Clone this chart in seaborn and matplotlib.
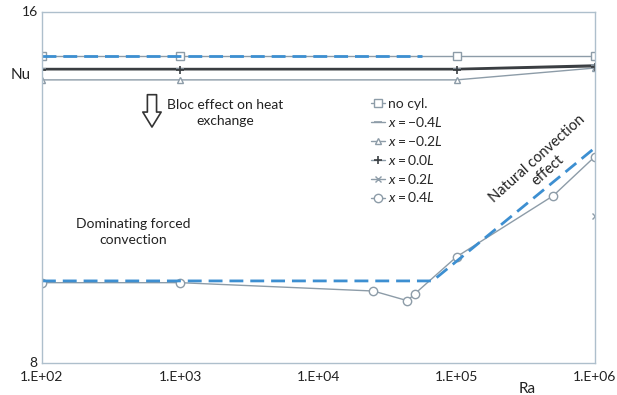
import numpy as np
import pandas as pd
import matplotlib
matplotlib.use("Agg")
import matplotlib.pyplot as plt
import seaborn as sns

# ---------------- data ----------------
ra_top = [1e2, 1e3, 1e5, 1e6]
nu_nocyl = [15.0, 15.0, 15.0, 15.0]
nu_m04 = [14.70, 14.70, 14.70, 14.78]
nu_m02 = [14.45, 14.45, 14.45, 14.72]
nu_00 = [14.68, 14.68, 14.68, 14.75]

ra_p02 = [1e6]
nu_p02 = [11.35]

ra_p04 = [1e2, 1e3, 2.5e4, 4.4e4, 5.0e4, 1e5, 5e5, 1e6]
nu_p04 = [9.83, 9.83, 9.64, 9.42, 9.58, 10.42, 11.81, 12.70]

ra_corr_hi = [1e2, 5.6e4]
nu_corr_hi = [15.0, 15.0]
ra_corr_lo = [1e2, 6.7e4, 1e6]
nu_corr_lo = [9.87, 9.87, 12.9]

xtick_vals = [1e2, 1e3, 1e4, 1e5, 1e6]
xtick_labels = ["1.E+02", "1.E+03", "1.E+04", "1.E+05", "1.E+06"]
ytick_vals = [8, 16]

# ---------------- style ----------------
sns.set_theme(style="white")
plt.rcParams['font.family'] = ['Lato', 'DejaVu Sans']
plt.rcParams['mathtext.fontset'] = 'custom'
plt.rcParams['mathtext.rm'] = 'Lato'
plt.rcParams['mathtext.it'] = 'Lato:italic'

fig = plt.figure(figsize=(6.17, 3.95), dpi=100)
ax = fig.add_axes([0.068, 0.081, 0.896, 0.889])

grey = '#8d9ca8'
dark = '#3a3e42'
blue = '#3d8fd1'

sns.lineplot(x=ra_top, y=nu_nocyl, ax=ax, color=grey, lw=1.0, marker='s', ms=6,
             mfc='white', mec=grey, mew=1.0, label='no cyl.')
sns.lineplot(x=ra_top, y=nu_m04, ax=ax, color=dark, lw=1.6, marker='_', ms=6,
             mec=grey, mew=1.2, label=r'$x = -0.4L$')
sns.lineplot(x=ra_top, y=nu_m02, ax=ax, color=grey, lw=1.0, marker='^', ms=5,
             mfc='white', mec=grey, mew=1.0, label=r'$x = -0.2L$')
sns.lineplot(x=ra_top, y=nu_00, ax=ax, color=dark, lw=1.0, marker='+', ms=6,
             mec=dark, mew=1.2, label=r'$x = 0.0L$')
sns.lineplot(x=ra_p02, y=nu_p02, ax=ax, color=grey, lw=1.0, marker='x', ms=5,
             mec=grey, mew=1.0, label=r'$x = 0.2L$')
sns.lineplot(x=ra_p04, y=nu_p04, ax=ax, color=grey, lw=1.0, marker='o', ms=6,
             mfc='white', mec=grey, mew=1.0, label=r'$x = 0.4L$')

sns.lineplot(x=ra_corr_hi, y=nu_corr_hi, ax=ax, color=blue, lw=2.0, legend=False)
ax.lines[-1].set_linestyle((0, (5, 2.5)))
sns.lineplot(x=ra_corr_lo, y=nu_corr_lo, ax=ax, color=blue, lw=2.0, legend=False)
ax.lines[-1].set_linestyle((0, (5, 2.5)))

ax.set_xscale('log')
ax.set_xlim(1e2, 1e6)
ax.set_ylim(8, 16)
ax.set_xticks(xtick_vals)
ax.set_xticklabels(xtick_labels)
ax.minorticks_off()
ax.set_yticks(ytick_vals)
ax.tick_params(axis='both', length=0, labelsize=10, colors='#222222')
ax.tick_params(axis='x', pad=6)
ax.tick_params(axis='y', pad=3)
for lab in ax.get_yticklabels():
    lab.set_verticalalignment('center')

for s in ax.spines.values():
    s.set_color('#aebfcc')
    s.set_linewidth(1.0)

ax.set_ylabel('Nu', rotation=0, fontsize=11, color='#222222')
ax.yaxis.set_label_coords(-0.038, 0.80)
ax.set_xlabel('Ra', fontsize=11, color='#222222', va='top')
ax.xaxis.set_label_coords(0.877, -0.055)

# annotations
ax.text(0.331, 0.712, 'Bloc effect on heat\nexchange', transform=ax.transAxes,
        ha='center', va='center', fontsize=10, color='#222222', linespacing=1.35)
ax.annotate('', xy=(0.199, 0.664), xytext=(0.199, 0.772), xycoords='axes fraction',
            arrowprops=dict(arrowstyle='simple,head_width=1.1,head_length=0.9,tail_width=0.55',
                            fc='white', ec='#333333', lw=1.2))
ax.text(0.165, 0.373, 'Dominating forced\nconvection', transform=ax.transAxes,
        ha='center', va='center', fontsize=10, color='#222222', linespacing=1.35)
ax.text(0.905, 0.565, 'Natural convection\neffect', transform=ax.transAxes,
        ha='center', va='center', fontsize=10.5, color='#222222', rotation=42,
        linespacing=1.2, rotation_mode='anchor')

leg = ax.legend(loc='upper left', bbox_to_anchor=(0.585, 0.77), frameon=False,
                fontsize=10, labelspacing=0.35, handlelength=1.0, handletextpad=0.2,
                borderaxespad=0)
for h in leg.legend_handles:
    h.set_color(grey)
    h.set_linewidth(1.0)

fig.savefig('out.png', dpi=100)
